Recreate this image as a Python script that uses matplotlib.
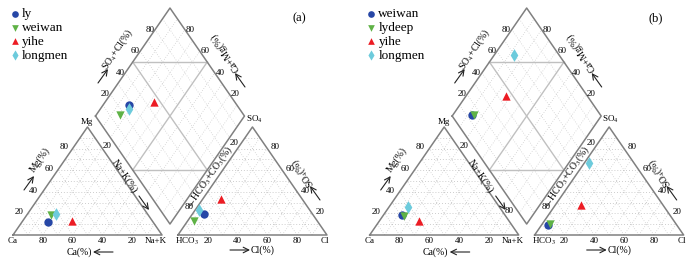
import numpy as np
import matplotlib.pyplot as plt

plt.rcParams['font.family'] = ['Liberation Serif', 'DejaVu Serif']
plt.rcParams['mathtext.fontset'] = 'stix'

# values (percent)
names_a = ['ly', 'weiwan', 'yihe', 'longmen']
mg_a = [12.3, 18.5, 13.0, 19.4]
nak_a = [17.1, 16.0, 32.9, 19.2]
so4_a = [19.4, 13.0, 33.3, 23.1]
cl_a = [8.0, 4.4, 12.2, 2.7]

names_b = ['weiwan', 'lydeep', 'yihe', 'longmen']
mg_b = [18.5, 17.6, 13.0, 25.6]
nak_b = [12.6, 14.2, 26.6, 12.9]
so4_b = [9.0, 10.2, 27.8, 66.9]
cl_b = [4.5, 5.4, 17.4, 2.7]

ticks = [20, 40, 60, 80]

styles = {
    'ly': ('o', '#2747a6'),
    'weiwan': ('v', '#5fb246'),
    'yihe': ('^', '#ec1c24'),
    'longmen': ('d', '#6dcbdc'),
    'lydeep': ('v', '#5fb246'),
}
styles_b = dict(styles)
styles_b['weiwan'] = ('o', '#2747a6')

H = np.sqrt(3) / 2
G = 0.107          # gap between the two triangles
YB = 0.088         # height of the diamond bottom
SX, SY = 149.0, 108.0 / H   # px per unit
EDGE = '#808080'
GRID = '#bdbdbd'
FS = 6.5
DOT = (0, (1, 2.5))


def px(x, y):
    # layout helper: pixel position in panel (a) -> piper units
    return (x - 13) / SX, (235 - y) / SY


def cat_xy(mg, nak):
    mg, nak = np.asarray(mg) / 100, np.asarray(nak) / 100
    return nak + mg / 2, mg * H


def an_xy(so4, cl):
    so4, cl = np.asarray(so4) / 100, np.asarray(cl) / 100
    return 1 + G + cl + so4 / 2, so4 * H


def dia_xy(nak, so4, cl):
    a = np.asarray(nak) / 100
    b = (np.asarray(so4) + np.asarray(cl)) / 100
    return 0.5 + G / 2 + 0.5 * (a + b), YB + H + H * (b - a)


def draw_frame(ax, dia_80):
    L = (0.5 + G / 2, YB + H)
    B = (1 + G / 2, YB)
    T = (1 + G / 2, YB + 2 * H)
    R = (1.5 + G / 2, YB + H)
    # dotted grids in the triangles
    for off in (0, 1 + G):
        for f in np.arange(0.1, 1.0, 0.1):
            ax.plot([off + f / 2, off + 1 - f / 2], [f * H, f * H], color=GRID, lw=0.6, ls=DOT)
            ax.plot([off + f, off + f / 2 + 0.5], [0, (1 - f) * H], color=GRID, lw=0.5, ls=DOT)
            ax.plot([off + f, off + f / 2], [0, f * H], color=GRID, lw=0.5, ls=DOT)
        ax.plot([off, off + 1, off + 0.5, off], [0, 0, H, 0], color=EDGE, lw=1.1)
    # diamond grid
    for f in np.arange(0.1, 1.0, 0.1):
        if abs(f - 0.5) < 1e-6:
            continue
        ax.plot([L[0] + f / 2, T[0] + f / 2], [L[1] - f * H, T[1] - f * H], color=GRID, lw=0.5, ls=DOT)
        ax.plot([L[0] + f / 2, B[0] + f / 2], [L[1] + f * H, B[1] + f * H], color=GRID, lw=0.5, ls=DOT)
    ax.plot([L[0] + 0.25, T[0] + 0.25], [L[1] - H / 2, T[1] - H / 2], color='#c0c0c0', lw=1.0)
    ax.plot([L[0] + 0.25, B[0] + 0.25], [L[1] + H / 2, B[1] + H / 2], color='#c0c0c0', lw=1.0)
    ax.plot([L[0] + 0.25, R[0] - 0.25], [L[1] + H / 2, R[1] + H / 2], color='#c0c0c0', lw=1.0)
    ax.plot([L[0] + 0.25, R[0] - 0.25], [L[1] - H / 2, R[1] - H / 2], color='#c0c0c0', lw=1.0)
    ax.plot([L[0], T[0], R[0], B[0], L[0]], [L[1], T[1], R[1], B[1], L[1]], color=EDGE, lw=1.1)

    kw = dict(fontsize=FS, ha='center', va='center')
    for t in ticks:
        f = t / 100
        ax.text(1 - f, -0.05, str(t), **kw)
        ax.text(f / 2 - 0.06, f * H + 0.01, str(t), **kw)
        ax.text(1 + G + f, -0.05, str(t), **kw)
        ax.text(1 + G + 1 - f / 2 + 0.055, f * H + 0.01, str(t), **kw)
        ax.text(L[0] + f / 2 - 0.035, L[1] + f * H, str(t), **kw)
        ax.text(R[0] - f / 2 + 0.035, R[1] + f * H, str(t), **kw)
        if t == 20 or (t == 80 and dia_80):
            ax.text(L[0] + f / 2 - 0.02, L[1] - f * H - 0.07, str(t), **kw)
        if t in (20, 80):
            ax.text(R[0] - f / 2 + 0.03, R[1] - f * H - 0.04, str(t), **kw)

    ax.text(*px(13, 241), 'Ca', **kw)
    ax.text(*px(156, 241), 'Na+K', **kw)
    ax.text(*px(187, 241), 'HCO$_3$', **kw)
    ax.text(*px(325, 241), 'Cl', **kw)
    ax.text(*px(87, 122), 'Mg', **kw)
    ax.text(*px(254, 119), 'SO$_4$', **kw)

    tk = dict(fontsize=7, ha='center', va='center', rotation_mode='anchor')
    ax.text(*px(40, 160), 'Mg(%)', rotation=55, **tk)
    ax.text(*px(79, 252), 'Ca(%)', **tk)
    ax.text(*px(124, 176), 'Na+K(%)', rotation=-56, **tk)
    ax.text(*px(210, 177), '\u2190HCO$_3$+CO$_3$(%)', rotation=55, **tk)
    ax.text(*px(303, 172), 'SO$_4$(%)', rotation=125, **tk)
    ax.text(*px(263, 250), 'Cl(%)', **tk)
    ax.text(*px(118, 50), 'SO$_4$+Cl(%)', rotation=56, **tk)
    ax.text(*px(225, 52), 'Ca+Mg(%)', rotation=124, **tk)

    arrows = [((24, 190), (34, 176)), ((113, 252), (93, 252)), ((139, 196), (149, 210)),
              ((320, 200), (310, 186)), ((230, 250), (250, 250)), ((98, 83), (108, 69)),
              ((245, 87), (235, 73))]
    for s, e in arrows:
        ax.annotate('', xy=px(*e), xytext=px(*s),
                    arrowprops=dict(arrowstyle='->', lw=0.8, color='#222222', shrinkA=0, shrinkB=0))


def draw_panel(ax, names, mg, nak, so4, cl, sty, tag, legx, dia_80):
    draw_frame(ax, dia_80)
    cx, cy = cat_xy(mg, nak)
    ax_, ay = an_xy(so4, cl)
    dx, dy = dia_xy(nak, so4, cl)
    for i, n in enumerate(names):
        m, c = sty[n]
        s = 42 if m == 'd' else 36
        ax.scatter(cx[i], cy[i], marker=m, color=c, s=s, zorder=5, linewidths=0)
        ax.scatter(ax_[i], ay[i], marker=m, color=c, s=s, zorder=5, linewidths=0)
        ax.scatter(dx[i], dy[i], marker=m, color=c, s=s, zorder=5, linewidths=0, label=n)
    ax.legend(loc='upper left', bbox_to_anchor=(legx, 1.0), frameon=False, fontsize=9.5,
              handletextpad=0.05, labelspacing=0.12, borderaxespad=0.2, handlelength=1.0,
              markerscale=0.8)
    ax.text(*px(299, 18), tag, fontsize=9, ha='center', va='center')


fig = plt.figure(figsize=(6.96, 2.64), dpi=100)
ax1 = fig.add_axes([0, 0, 0.5, 1])
ax1.set_xlim(-13 / SX, (348 - 13) / SX)
ax1.set_ylim((235 - 264) / SY, 235 / SY)
ax1.axis('off')
draw_panel(ax1, names_a, mg_a, nak_a, so4_a, cl_a, styles, '(a)', 0.0, False)

ax2 = fig.add_axes([0.5, 0, 0.5, 1])
off = 369.7 - 348
ax2.set_xlim(-off / SX, (348 - off) / SX)
ax2.set_ylim((235 - 264) / SY, 235 / SY)
ax2.axis('off')
draw_panel(ax2, names_b, mg_b, nak_b, so4_b, cl_b, styles_b, '(b)', 0.025, True)

fig.savefig('out.png', dpi=100)
